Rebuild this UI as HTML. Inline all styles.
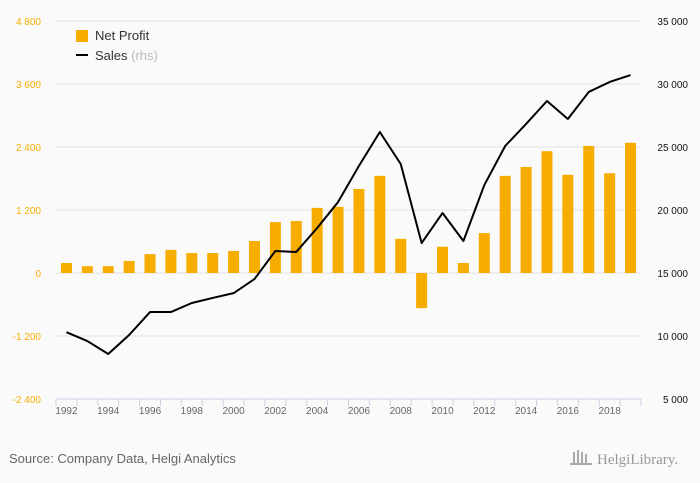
<!DOCTYPE html>
<html><head><meta charset="utf-8"><style>
body{margin:0;background:#fafafa;font-family:"Liberation Sans",sans-serif;}
svg{display:block}
</style></head><body>
<svg id="chart" width="700" height="483" xmlns="http://www.w3.org/2000/svg">
<rect width="700" height="483" fill="#fafafa"/>
<g id="grid"></g><g id="bars"></g><g id="line"></g><g id="axes"></g>
<g>
<rect x="76" y="30" width="12" height="12" fill="#f7ad00"/>
<text x="95" y="40" font-size="13" fill="#333">Net Profit</text>
<line x1="76" y1="55" x2="88" y2="55" stroke="#000" stroke-width="2"/>
<text x="95" y="60" font-size="13" fill="#333">Sales <tspan fill="#bbb">(rhs)</tspan></text>
</g>
<text x="9" y="463" font-size="13" fill="#666">Source: Company Data, Helgi Analytics</text>
<text x="597" y="464" font-size="15" fill="#999" font-family="Liberation Serif, serif">HelgiLibrary.</text>
<g fill="#aaa"><rect x="573" y="452" width="2" height="12"/><rect x="577" y="450" width="2" height="14"/><rect x="581" y="452" width="2" height="12"/><rect x="585" y="454" width="2" height="10"/><rect x="570" y="463" width="22" height="2"/></g>
</svg>
<script>
const years=[1992,1993,1994,1995,1996,1997,1998,1999,2000,2001,2002,2003,2004,2005,2006,2007,2008,2009,2010,2011,2012,2013,2014,2015,2016,2017,2018,2019];
const netProfit=[190,130,130,230,360,440,380,380,420,610,970,990,1240,1260,1600,1850,650,-670,500,190,760,1850,2020,2320,1870,2420,1900,2480];
const sales=[10300,9600,8570,10080,11900,11900,12620,13020,13400,14520,16750,16670,18570,20630,23500,26190,23650,17380,19760,17540,21980,25080,26830,28650,27220,29370,30160,30710];
const leftTicks=[-2400,-1200,0,1200,2400,3600,4800];
const leftTickLabels=["-2 400","-1 200","0","1 200","2 400","3 600","4 800"];
const rightTicks=[5000,10000,15000,20000,25000,30000,35000];
const rightTickLabels=["5 000","10 000","15 000","20 000","25 000","30 000","35 000"];
const NS="http://www.w3.org/2000/svg";
const xLeft=56,xRight=641,yTop=21,yBot=399;
const band=(xRight-xLeft)/years.length;
const xc=i=>xLeft+band*(i+0.5);
const yL=v=>yBot-(v+2400)/7200*(yBot-yTop);
const yR=v=>yBot-(v-5000)/30000*(yBot-yTop);
function mk(tag,attrs,parent){const e=document.createElementNS(NS,tag);for(const k in attrs)e.setAttribute(k,attrs[k]);document.getElementById(parent).appendChild(e);return e;}
leftTicks.forEach((t,i)=>{
  const y=yL(t);
  if(i>0){const g=mk('line',{x1:xLeft,x2:xRight,y1:y,y2:y,stroke:'#e3e3e3','stroke-width':1},'grid');
  
  }
  const l=mk('text',{x:41,y:y+4,'text-anchor':'end','font-size':10,fill:'#f7ad00'},'axes');l.textContent=leftTickLabels[i];
  
  
});
rightTicks.forEach((t,i)=>{
  const r=mk('text',{x:688,y:yR(t)+4,'text-anchor':'end','font-size':10,fill:'#111'},'axes');r.textContent=rightTickLabels[i];
  
  
});
const ax=mk('line',{x1:xLeft,x2:xRight,y1:yBot,y2:yBot,stroke:'#c9d3e6'},'axes');


for(let i=0;i<=years.length;i++){const tk=mk('line',{x1:xLeft+band*i,x2:xLeft+band*i,y1:yBot,y2:yBot+7,stroke:'#c9d3e6'},'axes');

}
years.forEach((yr,i)=>{
  if(i%2===0){const t=mk('text',{x:xc(i),y:yBot+15,'text-anchor':'middle','font-size':10,fill:'#666'},'axes');t.textContent=yr;
  
  }
  const v=netProfit[i],y0=yL(0),y=yL(v);
  const b=mk('rect',{x:xc(i)-5.5,y:Math.min(y,y0),width:11,height:Math.abs(y0-y),fill:'#f7ad00'},'bars');
  
  
});
const p=mk('polyline',{points:sales.map((v,i)=>xc(i)+','+yR(v)).join(' '),fill:'none',stroke:'#000','stroke-width':2,'stroke-linejoin':'round'},'line');


</script>
</body></html>
